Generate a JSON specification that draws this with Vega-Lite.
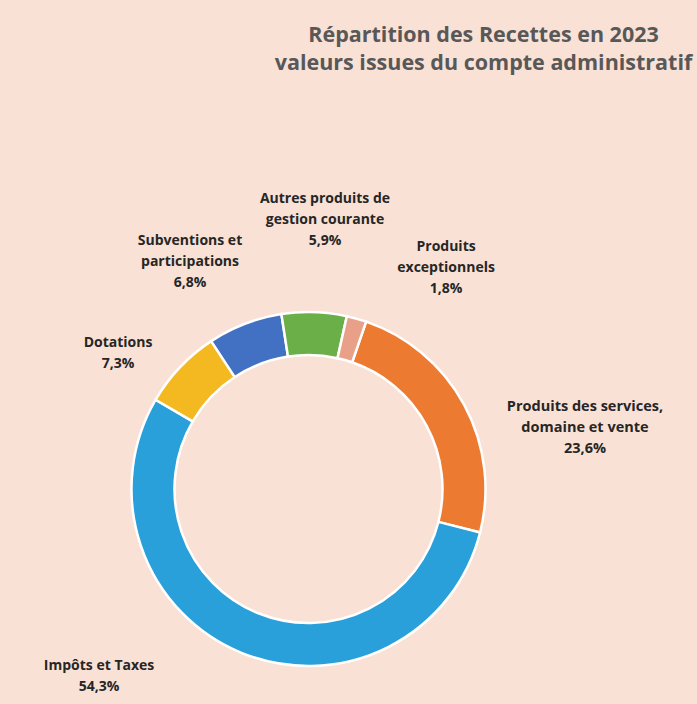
{
  "$schema": "https://vega.github.io/schema/vega-lite/v6.json",
  "width": 617,
  "height": 430,
  "autosize": {"type": "none"},
  "padding": {"left": 0, "top": 274, "right": 80, "bottom": 0},
  "background": "#FAE1D5",
  "title": {
    "text": ["Répartition des Recettes en 2023", "valeurs issues du compte administratif"],
    "anchor": "middle",
    "frame": "group",
    "dx": 175,
    "offset": 118,
    "font": "Open Sans",
    "fontSize": 21.5,
    "fontWeight": "bold",
    "color": "#585858",
    "lineHeight": 28
  },
  "data": {
    "values": [
      {"categorie": "Produits des services, domaine et vente", "etiquette": "Produits des services,|domaine et vente", "valeur": 23.6},
      {"categorie": "Impôts et Taxes", "etiquette": "Impôts et Taxes", "valeur": 54.3},
      {"categorie": "Dotations", "etiquette": "Dotations", "valeur": 7.3},
      {"categorie": "Subventions et participations", "etiquette": "Subventions et|participations", "valeur": 6.8},
      {"categorie": "Autres produits de gestion courante", "etiquette": "Autres produits de|gestion courante", "valeur": 5.9},
      {"categorie": "Produits exceptionnels", "etiquette": "Produits|exceptionnels", "valeur": 1.8}
    ]
  },
  "transform": [
    {"window": [{"op": "row_number", "as": "ordre"}]},
    {"stack": "valeur", "groupby": [], "sort": [{"field": "ordre", "order": "ascending"}], "as": ["t0", "t1"]},
    {"calculate": "(datum.t0 + datum.t1) / 2", "as": "mid"},
    {"calculate": "split(datum.etiquette + '|' + replace(format(datum.valeur, '.1f'), '.', ',') + '%', '|')", "as": "lignes"}
  ],
  "layer": [
    {
      "mark": {"type": "arc", "radius": 177, "radius2": 134, "stroke": "#FFFFFF", "strokeWidth": 2.5},
      "encoding": {
        "theta": {"field": "t0", "type": "quantitative", "scale": {"domain": [0, 99.7], "range": [0.3316, 6.6148]}},
        "theta2": {"field": "t1"},
        "color": {
          "field": "categorie",
          "type": "nominal",
          "scale": {
            "domain": ["Produits des services, domaine et vente", "Impôts et Taxes", "Dotations", "Subventions et participations", "Autres produits de gestion courante", "Produits exceptionnels"],
            "range": ["#EC7A30", "#29A0DA", "#F4B820", "#4270C2", "#6BAF48", "#E8A088"]
          },
          "legend": null
        }
      }
    },
    {
      "transform": [{"filter": "datum.ordre == 1"}],
      "mark": {"type": "text", "radius": 283, "dx": 27.5, "dy": 52.5, "font": "Open Sans", "fontSize": 14.5, "fontWeight": "bold", "color": "#262626", "lineHeight": 21, "align": "center", "baseline": "middle"},
      "encoding": {"theta": {"field": "mid", "type": "quantitative"}, "text": {"field": "lignes"}}
    },
    {
      "transform": [{"filter": "datum.ordre == 2"}],
      "mark": {"type": "text", "radius": 281, "dx": -103, "dy": -83.5, "font": "Open Sans", "fontSize": 14, "fontWeight": "bold", "color": "#262626", "lineHeight": 21, "align": "center", "baseline": "middle"},
      "encoding": {"theta": {"field": "mid", "type": "quantitative"}, "text": {"field": "lignes"}}
    },
    {
      "transform": [{"filter": "datum.ordre == 3"}],
      "mark": {"type": "text", "radius": 233.5, "dx": -21, "dy": 15.1, "font": "Open Sans", "fontSize": 14, "fontWeight": "bold", "color": "#262626", "lineHeight": 21, "align": "center", "baseline": "middle"},
      "encoding": {"theta": {"field": "mid", "type": "quantitative"}, "text": {"field": "lignes"}}
    },
    {
      "transform": [{"filter": "datum.ordre == 4"}],
      "mark": {"type": "text", "radius": 256, "dx": -26.4, "dy": -9, "font": "Open Sans", "fontSize": 14, "fontWeight": "bold", "color": "#262626", "lineHeight": 21, "align": "center", "baseline": "middle"},
      "encoding": {"theta": {"field": "mid", "type": "quantitative"}, "text": {"field": "lignes"}}
    },
    {
      "transform": [{"filter": "datum.ordre == 5"}],
      "mark": {"type": "text", "radius": 269.5, "dx": 7.8, "dy": -20.6, "font": "Open Sans", "fontSize": 14, "fontWeight": "bold", "color": "#262626", "lineHeight": 21, "align": "center", "baseline": "middle"},
      "encoding": {"theta": {"field": "mid", "type": "quantitative"}, "text": {"field": "lignes"}}
    },
    {
      "transform": [{"filter": "datum.ordre == 6"}],
      "mark": {"type": "text", "radius": 260, "dx": 67, "dy": 8.5, "font": "Open Sans", "fontSize": 14, "fontWeight": "bold", "color": "#262626", "lineHeight": 21, "align": "center", "baseline": "middle"},
      "encoding": {"theta": {"field": "mid", "type": "quantitative"}, "text": {"field": "lignes"}}
    }
  ],
  "config": {"view": {"stroke": null}}
}
